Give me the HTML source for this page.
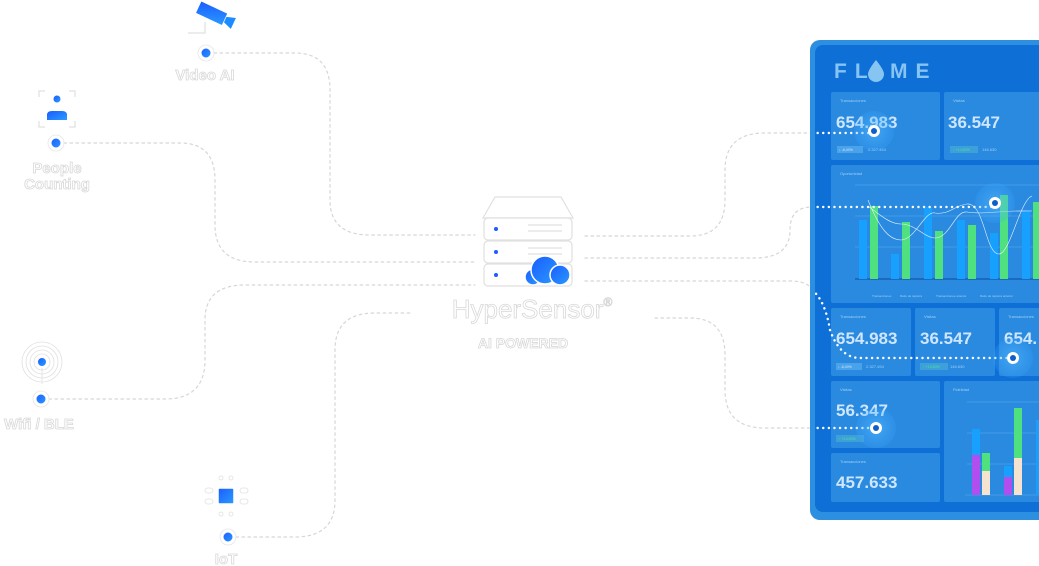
<!DOCTYPE html>
<html><head><meta charset="utf-8"><style>
html,body{margin:0;padding:0;background:#fff;width:1039px;height:566px;overflow:hidden;font-family:"Liberation Sans",sans-serif}
</style></head><body>
<svg width="1039" height="566" viewBox="0 0 1039 566" xmlns="http://www.w3.org/2000/svg">
<defs>
<linearGradient id="bl" x1="0" y1="0" x2="1" y2="1"><stop offset="0" stop-color="#1a5cff"/><stop offset="1" stop-color="#2a9bff"/></linearGradient>
<radialGradient id="glow"><stop offset="0" stop-color="#5ec0ff" stop-opacity="0.9"/><stop offset="1" stop-color="#3aa8ff" stop-opacity="0.35"/></radialGradient>
<clipPath id="pc"><rect x="815" y="45" width="230" height="467" rx="8"/></clipPath>
</defs>
<g fill="none" stroke="#d6d6d6" stroke-width="1.2" stroke-dasharray="2.5 3.5" stroke-linecap="round">
<path d="M214 53 H295 Q330 53 330 90 V200 Q330 235 370 235 H475"/>
<path d="M64 143 H180 Q215 143 215 180 V225 Q215 262 255 262 H475"/>
<path d="M49 399 H165 Q205 399 205 360 V320 Q205 285 245 285 H475"/>
<path d="M236 537 H295 Q335 537 335 500 V350 Q335 313 375 313 H410"/>
<path d="M585 236 H690 Q725 236 725 200 V170 Q725 133 765 133 H812"/>
<path d="M585 258 H755 Q790 258 790 230 Q790 207 812 207"/>
<path d="M585 281 H790 Q808 281 812 290"/>
<path d="M655 318 H690 Q725 318 725 355 V390 Q725 428 765 428 H812"/>
</g>
<rect x="810" y="40" width="240" height="480" rx="10" fill="#2c8fdf"/>
<rect x="815" y="45" width="235" height="467" rx="8" fill="#0e6fd6"/>
<g clip-path="url(#pc)">
<text x="834" y="78" font-size="21" font-weight="bold" fill="#86c4f2" letter-spacing="8">FL</text>
<path d="M876 60 Q868 70 868 74 A8 8 0 0 0 884 74 Q884 70 876 60Z" fill="#86c4f2"/>
<text x="890" y="78" font-size="21" font-weight="bold" fill="#86c4f2" letter-spacing="8">ME</text>
<g fill="#2a8ae0">
<rect x="831" y="92" width="109" height="68" rx="2"/>
<rect x="944" y="92" width="100" height="68" rx="2"/>
<rect x="831" y="165" width="213" height="138" rx="2"/>
<rect x="831" y="308" width="80" height="68" rx="2"/>
<rect x="915" y="308" width="80" height="68" rx="2"/>
<rect x="999" y="308" width="45" height="68" rx="2"/>
<rect x="831" y="381" width="109" height="67" rx="2"/>
<rect x="831" y="453" width="109" height="49" rx="2"/>
<rect x="944" y="381" width="100" height="121" rx="2"/>
</g>
<g font-size="4" fill="#9fd0f5">
<text x="840" y="102">Transacciones</text><text x="953" y="102">Visitas</text>
<text x="840" y="175">Oportunidad</text>
<text x="840" y="318">Transacciones</text><text x="924" y="318">Visitas</text><text x="1008" y="318">Transacciones</text>
<text x="840" y="391">Visitas</text><text x="840" y="463">Transacciones</text><text x="953" y="391">Fidelidad</text>
<text x="868" y="151">2.327.454</text><text x="982" y="151">146.630</text>
<text x="866" y="368">2.327.454</text><text x="950" y="368">146.630</text>
</g>
<g fill="#4aa3ea"><rect x="837" y="146" width="26" height="7"/><rect x="836" y="363" width="26" height="7"/></g>
<g fill="#3ea0d8"><rect x="950" y="146" width="28" height="7"/><rect x="920" y="363" width="28" height="7"/><rect x="836" y="435" width="28" height="7"/></g>
<g font-size="3.5" fill="#4de39a"><text x="953" y="151">↑ +14,50%</text><text x="923" y="368">↑ +14,50%</text><text x="839" y="440">↑ +14,50%</text></g>
<g font-size="3.5" fill="#cfe6ff"><text x="839" y="151">↓ -6,40%</text><text x="838" y="368">↓ -6,40%</text></g>
<g font-size="17" fill="#cfe6ff" font-weight="bold">
<text x="836" y="128">654.983</text><text x="948" y="128">36.547</text>
<text x="836" y="344">654.983</text><text x="920" y="344">36.547</text><text x="1004" y="344">654.</text>
<text x="836" y="416">56.347</text><text x="836" y="488">457.633</text>
</g>
<g stroke="#5aaeef" stroke-width="0.6"><line x1="855" y1="185" x2="1044" y2="185"/><line x1="855" y1="216" x2="1044" y2="216"/><line x1="855" y1="247" x2="1044" y2="247"/>
<line x1="967" y1="402" x2="1044" y2="402"/><line x1="967" y1="433" x2="1044" y2="433"/><line x1="967" y1="464" x2="1044" y2="464"/></g>
<line x1="855" y1="279" x2="1044" y2="279" stroke="#0b4a9a" stroke-width="1"/>
<g fill="#18a0ff"><rect x="859" y="220" width="8" height="59"/><rect x="891" y="254" width="8" height="25"/><rect x="924" y="207" width="8" height="72"/><rect x="957" y="220" width="8" height="59"/><rect x="990" y="233" width="8" height="46"/><rect x="1022" y="211" width="8" height="68"/></g>
<g fill="#4fe07f"><rect x="870" y="206" width="8" height="73"/><rect x="902" y="222" width="8" height="57"/><rect x="935" y="231" width="8" height="48"/><rect x="968" y="225" width="8" height="54"/><rect x="1000" y="195" width="8" height="84"/><rect x="1033" y="202" width="8" height="77"/></g>
<path d="M868 200 C880 230 890 240 901 240 C915 240 925 210 935 213 C950 215 955 205 967 204 C985 203 985 254 999 254 C1010 254 1020 200 1032 196" fill="none" stroke="#e8f4ff" stroke-width="0.6"/>
<path d="M868 206 C880 215 890 224 901 224 C915 224 925 238 935 238 C950 238 955 210 967 212 C985 215 1000 210 1032 211" fill="none" stroke="#e8f4ff" stroke-width="0.6"/>
<g font-size="3" fill="#9fd0f5"><text x="872" y="297">Transacciones</text><text x="900" y="297">Ratio de captura</text><text x="936" y="297">Transacciones anterior</text><text x="980" y="297">Ratio de captura anterior</text></g>
<line x1="965" y1="495" x2="1044" y2="495" stroke="#5aaeef" stroke-width="0.6"/>
<rect x="972" y="429" width="8" height="26" fill="#18a0ff"/><rect x="972" y="455" width="8" height="40" fill="#b04ef0"/>
<rect x="982" y="453" width="8" height="18" fill="#4fe07f"/><rect x="982" y="471" width="8" height="24" fill="#f5e3cf"/>
<rect x="1004" y="466" width="8" height="11" fill="#18a0ff"/><rect x="1004" y="477" width="8" height="18" fill="#b04ef0"/>
<rect x="1014" y="408" width="8" height="50" fill="#4fe07f"/><rect x="1014" y="458" width="8" height="37" fill="#f5e3cf"/>
<rect x="1036" y="420" width="8" height="75" fill="#18a0ff"/>
<g fill="none" stroke="#fff" stroke-width="2.4" stroke-dasharray="0.1 5.5" stroke-linecap="round">
<path d="M812 133 H874"/><path d="M812 207 H995"/><path d="M812 290 Q825 300 830 330 Q840 358 860 358 H1013"/><path d="M812 428 H876"/>
</g>
<g>
<circle cx="874" cy="131" r="20" fill="url(#glow)" opacity="0.6"/><circle cx="874" cy="131" r="6" fill="#fff"/><circle cx="874" cy="131" r="3" fill="#0e5fc8"/>
<circle cx="995" cy="203" r="20" fill="url(#glow)" opacity="0.6"/><circle cx="995" cy="203" r="6" fill="#fff"/><circle cx="995" cy="203" r="3" fill="#0e5fc8"/>
<circle cx="1013" cy="358" r="20" fill="url(#glow)" opacity="0.6"/><circle cx="1013" cy="358" r="6" fill="#fff"/><circle cx="1013" cy="358" r="3" fill="#0e5fc8"/>
<circle cx="876" cy="428" r="20" fill="url(#glow)" opacity="0.6"/><circle cx="876" cy="428" r="6" fill="#fff"/><circle cx="876" cy="428" r="3" fill="#0e5fc8"/>
</g>
</g>
<g fill="#fff" stroke="#e0e0e0" stroke-width="1.2">
<path d="M495 197 H561 L573 218 H483 Z"/>
<rect x="484" y="218" width="88" height="22" rx="4"/>
<rect x="484" y="241" width="88" height="22" rx="4"/>
<rect x="484" y="264" width="88" height="22" rx="4"/>
<line x1="528" y1="225" x2="562" y2="225"/><line x1="528" y1="231" x2="562" y2="231"/>
<line x1="528" y1="248" x2="562" y2="248"/><line x1="528" y1="254" x2="562" y2="254"/>
</g>
<g fill="#1a5cff"><circle cx="496" cy="229" r="2"/><circle cx="496" cy="252" r="2"/><circle cx="496" cy="275" r="2"/></g>
<g fill="url(#bl)" stroke="#fff" stroke-width="1.5"><circle cx="533" cy="277" r="8"/><circle cx="545" cy="270" r="14"/><circle cx="560" cy="275" r="10"/></g>
<g fill="#fff" stroke="#d8d8d8" stroke-width="0.8" font-weight="bold" text-anchor="middle">
<text x="532" y="318" font-size="26" font-weight="normal">HyperSensor<tspan font-size="12" dy="-12">®</tspan></text>
<text x="523" y="348" font-size="14">AI POWERED</text>
<text x="205" y="80" font-size="15">Video AI</text>
<text x="57" y="173" font-size="15">People</text>
<text x="57" y="189" font-size="15">Counting</text>
<text x="39" y="429" font-size="15">Wifi / BLE</text>
<text x="226" y="564" font-size="15">IoT</text>
</g>
<g transform="rotate(25 213 15)"><rect x="196" y="7" width="30" height="14" rx="1" fill="url(#bl)" stroke="#fff" stroke-width="1.5"/><path d="M226 11 L235 8 V20 L226 17Z" fill="#1a8cff"/></g>
<path d="M205 22 V33 H188" fill="none" stroke="#e0e0e0" stroke-width="1.2"/>
<g fill="none" stroke="#e0e0e0" stroke-width="1.2"><path d="M39 97 V91 H45 M69 91 H75 V97 M39 121 V127 H45 M69 127 H75 V121"/></g>
<circle cx="57" cy="99" r="3.5" fill="url(#bl)"/><path d="M47 120 V115 Q47 111 52 111 H62 Q67 111 67 115 V120Z" fill="url(#bl)"/>
<g fill="none" stroke="#e0e0e0" stroke-width="0.8"><circle cx="42" cy="362" r="8"/><circle cx="42" cy="362" r="12"/><circle cx="42" cy="362" r="16"/><circle cx="42" cy="362" r="20"/><line x1="42" y1="368" x2="42" y2="384"/></g>
<circle cx="42" cy="362" r="4" fill="url(#bl)"/>
<g fill="none" stroke="#e0e0e0" stroke-width="0.8"><rect x="205" y="488" width="8" height="5" rx="2.5"/><rect x="205" y="499" width="8" height="5" rx="2.5"/><rect x="240" y="488" width="8" height="5" rx="2.5"/><rect x="240" y="499" width="8" height="5" rx="2.5"/><circle cx="221" cy="478" r="2"/><circle cx="231" cy="478" r="2"/><circle cx="221" cy="514" r="2"/><circle cx="231" cy="514" r="2"/></g>
<rect x="218" y="488" width="16" height="16" rx="1.5" fill="url(#bl)" stroke="#fff" stroke-width="1.5"/>
<g fill="url(#bl)" stroke="#fff" stroke-width="2">
<circle cx="206" cy="53" r="5.5"/><circle cx="56" cy="143" r="5.5"/><circle cx="41" cy="399" r="5.5"/><circle cx="228" cy="537" r="5.5"/>
</g>
<g fill="none" stroke="#e6e6e6" stroke-width="0.8"><circle cx="206" cy="53" r="8"/><circle cx="56" cy="143" r="8"/><circle cx="41" cy="399" r="8"/><circle cx="228" cy="537" r="8"/></g>
</svg>
</body></html>
